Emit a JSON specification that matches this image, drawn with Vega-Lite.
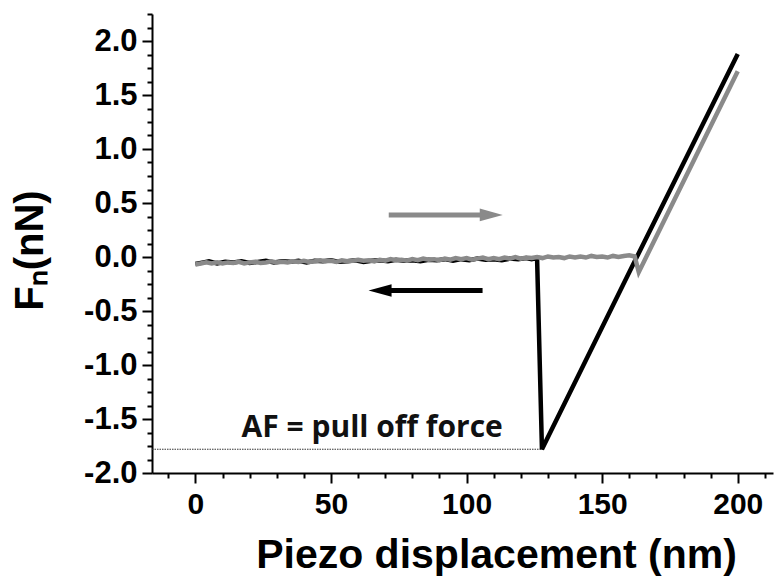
{
  "$schema": "https://vega.github.io/schema/vega-lite/v6.json",
  "width": 621,
  "height": 459,
  "autosize": "none",
  "padding": {"left": 152, "top": 14, "right": 1, "bottom": 104},
  "background": "white",
  "config": {
    "view": {"stroke": null},
    "axis": {
      "grid": false,
      "domainColor": "#000",
      "domainWidth": 2,
      "tickColor": "#000",
      "tickWidth": 2,
      "labelFont": "Liberation Sans",
      "labelFontWeight": "bold",
      "labelColor": "#000",
      "titleFont": "Liberation Sans",
      "titleFontWeight": "bold",
      "titleColor": "#000"
    }
  },
  "datasets": {
    "curves": [
      {"series": "retract", "x": 0, "y": -0.065},
      {"series": "retract", "x": 3, "y": -0.05},
      {"series": "retract", "x": 5, "y": -0.04},
      {"series": "retract", "x": 8, "y": -0.06},
      {"series": "retract", "x": 11, "y": -0.045},
      {"series": "retract", "x": 14, "y": -0.05},
      {"series": "retract", "x": 17, "y": -0.04},
      {"series": "retract", "x": 20, "y": -0.055},
      {"series": "retract", "x": 23, "y": -0.045},
      {"series": "retract", "x": 26, "y": -0.035},
      {"series": "retract", "x": 29, "y": -0.05},
      {"series": "retract", "x": 32, "y": -0.04},
      {"series": "retract", "x": 35, "y": -0.045},
      {"series": "retract", "x": 38, "y": -0.035},
      {"series": "retract", "x": 41, "y": -0.05},
      {"series": "retract", "x": 44, "y": -0.035},
      {"series": "retract", "x": 47, "y": -0.04},
      {"series": "retract", "x": 50, "y": -0.03},
      {"series": "retract", "x": 53, "y": -0.045},
      {"series": "retract", "x": 56, "y": -0.04},
      {"series": "retract", "x": 59, "y": -0.03},
      {"series": "retract", "x": 62, "y": -0.045},
      {"series": "retract", "x": 65, "y": -0.035},
      {"series": "retract", "x": 68, "y": -0.03},
      {"series": "retract", "x": 71, "y": -0.04},
      {"series": "retract", "x": 74, "y": -0.025},
      {"series": "retract", "x": 77, "y": -0.035},
      {"series": "retract", "x": 80, "y": -0.03},
      {"series": "retract", "x": 83, "y": -0.04},
      {"series": "retract", "x": 86, "y": -0.025},
      {"series": "retract", "x": 89, "y": -0.03},
      {"series": "retract", "x": 92, "y": -0.02},
      {"series": "retract", "x": 95, "y": -0.035},
      {"series": "retract", "x": 98, "y": -0.02},
      {"series": "retract", "x": 101, "y": -0.03},
      {"series": "retract", "x": 104, "y": -0.015},
      {"series": "retract", "x": 107, "y": -0.025},
      {"series": "retract", "x": 110, "y": -0.02},
      {"series": "retract", "x": 113, "y": -0.03},
      {"series": "retract", "x": 116, "y": -0.015},
      {"series": "retract", "x": 119, "y": -0.02},
      {"series": "retract", "x": 122, "y": -0.01},
      {"series": "retract", "x": 124, "y": -0.02},
      {"series": "retract", "x": 126, "y": -0.01},
      {"series": "retract", "x": 127.8, "y": -1.78},
      {"series": "retract", "x": 162, "y": -0.04},
      {"series": "retract", "x": 200, "y": 1.88},
      {"series": "approach", "x": 0, "y": -0.07},
      {"series": "approach", "x": 2, "y": -0.06},
      {"series": "approach", "x": 4, "y": -0.05},
      {"series": "approach", "x": 6, "y": -0.06},
      {"series": "approach", "x": 8, "y": -0.05},
      {"series": "approach", "x": 10, "y": -0.06},
      {"series": "approach", "x": 12, "y": -0.05},
      {"series": "approach", "x": 14, "y": -0.055},
      {"series": "approach", "x": 16, "y": -0.045},
      {"series": "approach", "x": 18, "y": -0.06},
      {"series": "approach", "x": 20, "y": -0.05},
      {"series": "approach", "x": 22, "y": -0.045},
      {"series": "approach", "x": 24, "y": -0.055},
      {"series": "approach", "x": 26, "y": -0.05},
      {"series": "approach", "x": 28, "y": -0.04},
      {"series": "approach", "x": 30, "y": -0.05},
      {"series": "approach", "x": 32, "y": -0.045},
      {"series": "approach", "x": 34, "y": -0.05},
      {"series": "approach", "x": 36, "y": -0.04},
      {"series": "approach", "x": 38, "y": -0.045},
      {"series": "approach", "x": 40, "y": -0.035},
      {"series": "approach", "x": 42, "y": -0.045},
      {"series": "approach", "x": 44, "y": -0.04},
      {"series": "approach", "x": 46, "y": -0.03},
      {"series": "approach", "x": 48, "y": -0.04},
      {"series": "approach", "x": 50, "y": -0.035},
      {"series": "approach", "x": 52, "y": -0.045},
      {"series": "approach", "x": 54, "y": -0.03},
      {"series": "approach", "x": 56, "y": -0.04},
      {"series": "approach", "x": 58, "y": -0.035},
      {"series": "approach", "x": 60, "y": -0.025},
      {"series": "approach", "x": 62, "y": -0.035},
      {"series": "approach", "x": 64, "y": -0.03},
      {"series": "approach", "x": 66, "y": -0.04},
      {"series": "approach", "x": 68, "y": -0.025},
      {"series": "approach", "x": 70, "y": -0.035},
      {"series": "approach", "x": 72, "y": -0.02},
      {"series": "approach", "x": 74, "y": -0.03},
      {"series": "approach", "x": 76, "y": -0.025},
      {"series": "approach", "x": 78, "y": -0.035},
      {"series": "approach", "x": 80, "y": -0.02},
      {"series": "approach", "x": 82, "y": -0.03},
      {"series": "approach", "x": 84, "y": -0.015},
      {"series": "approach", "x": 86, "y": -0.025},
      {"series": "approach", "x": 88, "y": -0.02},
      {"series": "approach", "x": 90, "y": -0.03},
      {"series": "approach", "x": 92, "y": -0.015},
      {"series": "approach", "x": 94, "y": -0.025},
      {"series": "approach", "x": 96, "y": -0.01},
      {"series": "approach", "x": 98, "y": -0.02},
      {"series": "approach", "x": 100, "y": -0.01},
      {"series": "approach", "x": 102, "y": -0.025},
      {"series": "approach", "x": 104, "y": -0.015},
      {"series": "approach", "x": 106, "y": -0.005},
      {"series": "approach", "x": 108, "y": -0.02},
      {"series": "approach", "x": 110, "y": -0.01},
      {"series": "approach", "x": 112, "y": -0.02},
      {"series": "approach", "x": 114, "y": -0.005},
      {"series": "approach", "x": 116, "y": -0.015},
      {"series": "approach", "x": 118, "y": 0.0},
      {"series": "approach", "x": 120, "y": -0.015},
      {"series": "approach", "x": 122, "y": -0.005},
      {"series": "approach", "x": 124, "y": -0.01},
      {"series": "approach", "x": 126, "y": 0.0},
      {"series": "approach", "x": 128, "y": -0.01},
      {"series": "approach", "x": 130, "y": 0.005},
      {"series": "approach", "x": 132, "y": -0.005},
      {"series": "approach", "x": 134, "y": 0.0},
      {"series": "approach", "x": 136, "y": -0.01},
      {"series": "approach", "x": 138, "y": 0.005},
      {"series": "approach", "x": 140, "y": -0.005},
      {"series": "approach", "x": 142, "y": 0.005},
      {"series": "approach", "x": 144, "y": -0.005},
      {"series": "approach", "x": 146, "y": 0.01},
      {"series": "approach", "x": 148, "y": 0.0},
      {"series": "approach", "x": 150, "y": 0.005},
      {"series": "approach", "x": 152, "y": -0.005},
      {"series": "approach", "x": 154, "y": 0.01},
      {"series": "approach", "x": 156, "y": 0.0},
      {"series": "approach", "x": 158, "y": 0.01},
      {"series": "approach", "x": 160, "y": 0.015},
      {"series": "approach", "x": 162, "y": 0.005},
      {"series": "approach", "x": 163.5, "y": -0.14},
      {"series": "approach", "x": 200, "y": 1.72}
    ],
    "arrows": [
      {"dir": "approach", "y": 0.39, "x1": 71.3, "x2": 106, "xh": 109.1},
      {"dir": "retract", "y": -0.31, "x1": 70, "x2": 105.9, "xh": 68.1}
    ],
    "af": [
      {"x1": -16, "x2": 127.8, "y": -1.78, "label": "AF = pull off force", "lx": 65.2, "ly": -1.67}
    ]
  },
  "resolve": {"axis": {"x": "independent", "y": "independent"}},
  "layer": [
    {
      "data": {"name": "af"},
      "mark": {"type": "rule", "color": "#333", "strokeWidth": 1, "strokeDash": [1.5, 1]},
      "encoding": {
        "x": {"field": "x1", "type": "quantitative", "scale": {"domain": [-16, 213], "nice": false, "zero": false},
          "axis": {"orient": "bottom", "values": [-10, 10, 20, 30, 40, 60, 70, 80, 90, 110, 120, 130, 140, 160, 170, 180, 190, 210], "labels": false, "domain": false, "tickSize": 5, "title": null}},
        "x2": {"field": "x2"},
        "y": {"field": "y", "type": "quantitative", "scale": {"domain": [-2, 2.25], "nice": false, "zero": false},
          "axis": {"orient": "left", "values": [-1.875, -1.75, -1.625, -1.375, -1.25, -1.125, -0.875, -0.75, -0.625, -0.375, -0.25, -0.125, 0.125, 0.25, 0.375, 0.625, 0.75, 0.875, 1.125, 1.25, 1.375, 1.625, 1.75, 1.875, 2.125, 2.25], "labels": false, "domain": false, "tickSize": 5, "title": null}}
      }
    },
    {
      "data": {"name": "af"},
      "mark": {"type": "text", "font": "Open Sans", "fontWeight": "bold", "fontSize": 30, "color": "#111", "align": "center", "baseline": "alphabetic"},
      "encoding": {
        "x": {"field": "lx", "type": "quantitative", "axis": null},
        "y": {"field": "ly", "type": "quantitative", "axis": null},
        "text": {"field": "label"}
      }
    },
    {
      "mark": {"type": "rule", "color": "#444", "strokeWidth": 1.5},
      "encoding": {
        "y": {"datum": 2.25, "type": "quantitative", "axis": null}
      }
    },
    {
      "data": {"name": "curves"},
      "transform": [{"filter": "datum.series == 'retract'"}],
      "mark": {"type": "line", "color": "#000", "strokeWidth": 4.5, "strokeJoin": "miter"},
      "encoding": {
        "x": {"field": "x", "type": "quantitative",
          "axis": {"orient": "bottom", "values": [0, 50, 100, 150, 200], "tickSize": 10, "labelFontSize": 30, "labelPadding": 6, "title": "Piezo displacement (nm)", "titleFontSize": 41, "titleX": 344, "titleY": 94, "titleBaseline": "alphabetic", "titleAnchor": null}},
        "y": {"field": "y", "type": "quantitative",
          "axis": {"orient": "left", "values": [-2, -1.5, -1, -0.5, 0, 0.5, 1, 1.5, 2], "labelExpr": "(datum.value < 0 ? '-' : '') + format(abs(datum.value), '.1f')", "tickSize": 10, "labelFontSize": 31, "labelPadding": 5, "title": "Fₙ(nN)", "titleFontSize": 40, "titleX": -110, "titleY": 236, "titleAngle": -90, "titleAlign": "center", "titleBaseline": "alphabetic"}},
        "order": {"field": "x", "type": "quantitative"}
      }
    },
    {
      "data": {"name": "curves"},
      "transform": [{"filter": "datum.series == 'approach'"}],
      "mark": {"type": "line", "color": "#8a8a8a", "strokeWidth": 4.5, "strokeJoin": "miter"},
      "encoding": {
        "x": {"field": "x", "type": "quantitative", "axis": null},
        "y": {"field": "y", "type": "quantitative", "axis": null},
        "order": {"field": "x", "type": "quantitative"}
      }
    },
    {
      "data": {"name": "arrows"},
      "mark": {"type": "rule", "strokeWidth": 5},
      "encoding": {
        "x": {"field": "x1", "type": "quantitative", "axis": null},
        "x2": {"field": "x2"},
        "y": {"field": "y", "type": "quantitative", "axis": null},
        "color": {"field": "dir", "type": "nominal", "scale": {"domain": ["approach", "retract"], "range": ["#8a8a8a", "#000"]}, "legend": null}
      }
    },
    {
      "data": {"name": "arrows"},
      "transform": [{"filter": "datum.dir == 'approach'"}],
      "mark": {"type": "point", "shape": "M-1,-0.55L1,0L-1,0.55Z", "filled": true, "size": 529, "color": "#8a8a8a", "opacity": 1},
      "encoding": {
        "x": {"field": "xh", "type": "quantitative", "axis": null},
        "y": {"field": "y", "type": "quantitative", "axis": null}
      }
    },
    {
      "data": {"name": "arrows"},
      "transform": [{"filter": "datum.dir == 'retract'"}],
      "mark": {"type": "point", "shape": "M1,-0.55L-1,0L1,0.55Z", "filled": true, "size": 529, "color": "#000", "opacity": 1},
      "encoding": {
        "x": {"field": "xh", "type": "quantitative", "axis": null},
        "y": {"field": "y", "type": "quantitative", "axis": null}
      }
    }
  ]
}
